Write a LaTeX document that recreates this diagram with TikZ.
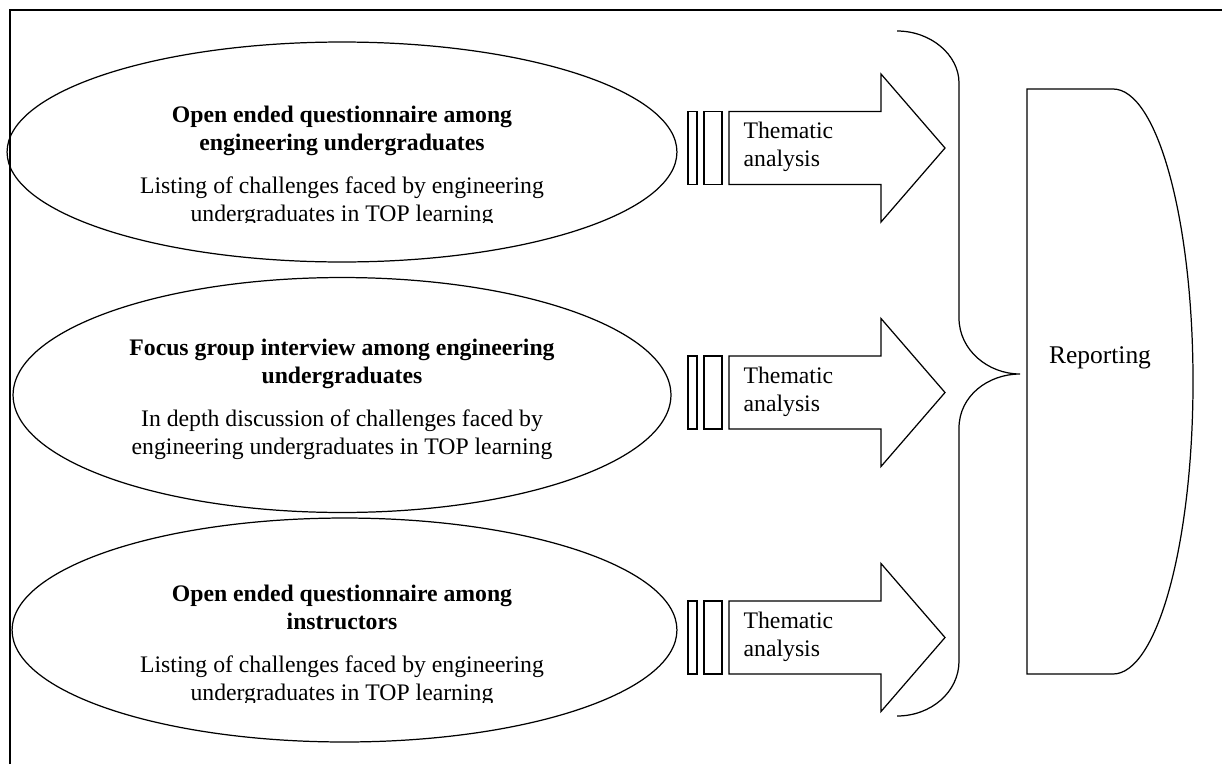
\documentclass[tikz,border=0pt]{standalone}
\usepackage{fontspec}
\setmainfont{Liberation Serif}
\usetikzlibrary{shapes.geometric,positioning}

\begin{document}
\begin{tikzpicture}[%
    x=0.02cm, y=-0.02cm,
    line width=0.7pt,
    stage/.style={ellipse, draw, inner sep=0pt, outer sep=0pt},
    txt/.style={align=center, inner sep=0pt, font=\fontsize{13.5}{15.9}\selectfont},
    tharrow/.style={align=left, anchor=west, inner sep=0pt, font=\fontsize{13.5}{15.9}\selectfont}
    ]
    \useasboundingbox (0,0) rectangle (1222,764);
    \draw[line width=0.9pt] (10,764) -- (10,10) -- (1222,10);

    % the three data collection stages
    \node[stage, minimum width=13.4cm, minimum height=4.4cm] (q1) at (342,152) {};
    \node[stage, minimum width=13.16cm, minimum height=4.7cm] (fg) at (342,395) {};
    \node[stage, minimum width=13.3cm, minimum height=4.48cm] (q2) at (344.5,630) {};

    \begin{scope}
    \clip (20,40) rectangle (670,222);
    \node[txt] (t1) at (342,166) {\textbf{Open ended questionnaire among}\\
        \textbf{engineering undergraduates}\\[8.5pt]
        Listing of challenges faced by engineering\\
        undergraduates in TOP learning};
    \end{scope}
    \node[txt] (t2) at (342,399) {\textbf{Focus group interview among engineering}\\
        \textbf{undergraduates}\\[8.5pt]
        In depth discussion of challenges faced by\\
        engineering undergraduates in TOP learning};
    \begin{scope}
    \clip (20,520) rectangle (670,702);
    \node[txt] (t3) at (342,645) {\textbf{Open ended questionnaire among}\\
        \textbf{instructors}\\[8.5pt]
        Listing of challenges faced by engineering\\
        undergraduates in TOP learning};
    \end{scope}

    % thematic analysis arrows
    \foreach \c/\n in {148/1, 392.5/2, 637.5/3} {
        \draw (688,\c-36.5) rectangle (697,\c+36.5);
        \draw (704,\c-36.5) rectangle (722,\c+36.5);
        \draw (729,\c-36.5) -- (881,\c-36.5) -- (881,\c-74) -- (945,\c)
            -- (881,\c+74) -- (881,\c+36.5) -- (729,\c+36.5) -- cycle;
        \node[tharrow] (th\n) at (743,\c-1) {Thematic\\analysis};
    }

    % brace and reporting
    \draw (897,31) .. controls (931,31) and (959,55) .. (959,83) -- (959,318)
        .. controls (959,350) and (988,374) .. (1020,374)
        .. controls (988,374) and (959,396) .. (959,428) -- (959,661)
        .. controls (959,692) and (931,716) .. (897,716);
    \draw (1027,89) -- (1113,89) arc[start angle=-90, end angle=90, x radius=80, y radius=292.5]
        -- (1027,674) -- cycle;
    \node[font=\fontsize{14.5}{17}\selectfont] (rep) at (1100,358) {Reporting};
\end{tikzpicture}
\end{document}
